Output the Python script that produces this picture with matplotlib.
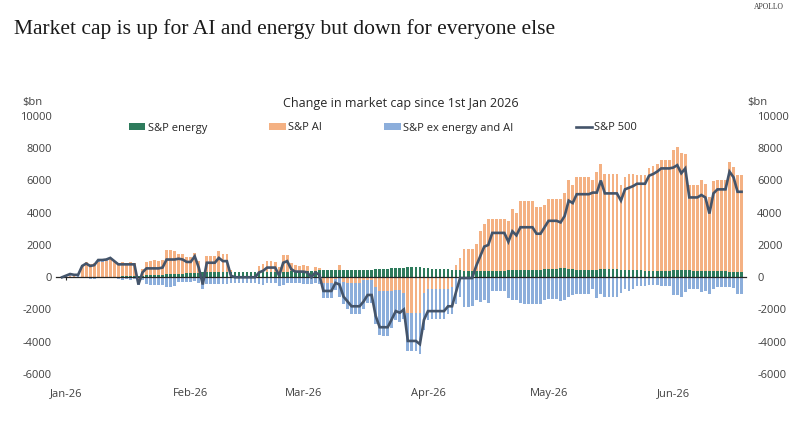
import matplotlib
matplotlib.use("Agg")
import matplotlib.pyplot as plt
import matplotlib.dates as mdates
from matplotlib.patches import Patch
from matplotlib.lines import Line2D
import numpy as np
import pandas as pd

plt.rcParams['axes.unicode_minus'] = False
plt.rcParams['font.family'] = ['Open Sans', 'DejaVu Sans']

start_date = "2025-12-31"

# S&P 500 total change in market cap ($bn), daily
sp500 = [
    0, 100, 200, 150, 150, 700, 850, 700, 750, 1070,
    1070, 1100, 1200, 1000, 800, 800, 800, 800, 800, -450,
    300, 550, 550, 550, 550, 600, 1100, 1100, 1100, 1150, 1100,
    950, 950, 1300, 600, -450, 900, 900, 900, 1200, 1000,
    1000, 100, 0, 0, 0, 0, 0, 0, 300, 400,
    600, 600, 600, 100, 900, 1000, 500, 350,
    350, 350, 300, 0, 300, 150, -850, -850, -850, -350,
    -450, -1200, -1500, -1800, -1800, -1800, -1500, -1100, -1100, -2400,
    -3100, -3100, -3100, -2600, -2100, -2200, -2000, -3950, -3950, -3950, -4150,
    -2650, -2100, -2100, -2100, -2100, -2100, -1800, -1800, -900, -50,
    -50, -50, -50, 700, 1300, 1900, 2000, 2750, 2750, 2750,
    2750, 2200, 2850, 2600, 3100, 3100, 3100, 3100, 2700, 2700,
    3100, 3500, 3500, 3500, 3400, 3800, 4750, 4600, 5150, 5150,
    5150, 5150, 5250, 5250, 6000, 5200, 5200, 5200, 5200, 4750,
    5450, 5550, 5650, 5800, 5800, 5800, 6300, 6400, 6550, 6750, 6750,
    6750, 6800, 6950, 6450, 6750, 4950, 4950, 4950, 5100, 4950,
    3950, 5200, 5450, 5450, 5450, 6550, 6200, 5300, 5300,
]

# S&P energy ($bn)
energy = [
    0, 0, 0, 0, 0, 20, 20, 20, 20, 20,
    30, 30, 30, 30, 30, 50, 50, 50, 50, 50,
    100, 120, 150, 150, 150, 150, 200, 200, 200, 200, 220,
    250, 250, 280, 280, 300, 300, 300, 300, 300, 320,
    320, 330, 330, 330, 330, 350, 350, 350, 350, 350,
    330, 330, 330, 350, 350, 350, 380, 380,
    380, 400, 400, 400, 400, 420, 420, 420, 420, 420,
    440, 440, 440, 450, 450, 450, 450, 480, 480, 500,
    500, 520, 520, 550, 550, 580, 600, 620, 620, 620, 620,
    600, 550, 520, 500, 500, 500, 500, 480, 450, 420,
    400, 400, 380, 380, 380, 380, 380, 400, 400, 400,
    400, 420, 420, 420, 420, 450, 450, 450, 480, 480,
    500, 500, 520, 520, 550, 550, 520, 500, 480, 450,
    450, 450, 450, 480, 500, 520, 520, 520, 500, 480,
    450, 450, 420, 420, 420, 400, 400, 400, 400, 400, 400,
    400, 420, 420, 420, 420, 420, 400, 400, 400, 400,
    400, 400, 380, 380, 380, 350, 350, 330, 330,
]

# S&P AI ($bn)
ai = [
    0, 0, 50, 50, 0, 750, 900, 800, 850, 900,
    900, 1000, 1100, 1000, 850, 900, 850, 900, 850, -100,
    400, 850, 850, 900, 850, 900, 1500, 1500, 1450, 1250, 1200,
    1000, 1000, 1250, 700, -400, 1000, 1000, 1000, 1300, 1100,
    1100, 100, 0, 0, 0, 0, 0, 0, 350, 500,
    650, 650, 600, 300, 1000, 1000, 500, 350,
    300, 350, 300, 0, 250, 150, -350, -350, -350, -100,
    350, -300, -350, -350, -350, -350, -200, -150, -150, -600,
    -850, -850, -850, -850, -800, -800, -1000, -2200, -2200, -2200, -2200,
    -1000, -700, -700, -700, -700, -700, -700, -600, 300, 750,
    1370, 1370, 1370, 1700, 2470, 2920, 3220, 3200, 3200, 3200,
    3200, 3080, 3830, 3580, 4280, 4280, 4280, 4280, 3900, 3900,
    4000, 4350, 4330, 4330, 4300, 4650, 5480, 5200, 5720, 5750,
    5750, 5750, 5550, 6070, 6550, 5880, 5880, 5880, 5900, 5270,
    5750, 5950, 5980, 5930, 5930, 5950, 6350, 6500, 6650, 6900, 6900,
    6900, 7480, 7630, 7280, 7230, 5280, 5300, 5300, 5600, 5400,
    4600, 5550, 5670, 5670, 5670, 6800, 6500, 6020, 6020,
]

s = np.array(sp500, dtype=float)
e = np.array(energy, dtype=float)
a = np.array(ai, dtype=float)
x_other = s - e - a  # S&P ex energy and AI

dates = pd.date_range(start_date, periods=len(s), freq="D")

c_energy = "#2E7B5C"
c_ai = "#F4B183"
c_other = "#8CAEDB"
c_line = "#44546A"
c_text = "#404040"

fig = plt.figure(figsize=(8.0, 4.21), dpi=100)
ax = fig.add_axes([56/800, 1-374/421, 690/800, 258/421])

pos_base = np.zeros(len(s))
neg_base = np.zeros(len(s))
w = 0.68
for vals, col in [(e, c_energy), (a, c_ai), (x_other, c_other)]:
    bottoms = np.where(vals >= 0, pos_base, neg_base)
    ax.bar(dates, vals, bottom=bottoms, width=w, color=col, linewidth=0, zorder=2)
    pos_base = pos_base + np.where(vals >= 0, vals, 0)
    neg_base = neg_base + np.where(vals < 0, vals, 0)

ax.plot(dates, s, color=c_line, lw=1.9, zorder=4, solid_joinstyle="miter")

ax.set_ylim(-6000, 10000)
ax.set_yticks(np.arange(-6000, 10001, 2000))
ax.set_xlim(dates[0] - pd.Timedelta(days=1.5), dates[0] + pd.Timedelta(days=170.1))

for sp in ["top", "left", "right"]:
    ax.spines[sp].set_visible(False)
ax.spines["bottom"].set_position(("data", 0))
ax.spines["bottom"].set_color("#262626")
ax.spines["bottom"].set_linewidth(0.9)
ax.spines["bottom"].set_zorder(3)

ax.xaxis.set_major_locator(mdates.MonthLocator())
ax.xaxis.set_major_formatter(mdates.DateFormatter("%b-%y"))
ax.tick_params(axis="x", length=2.5, width=0.8, color="#262626", direction="out",
               pad=77, labelsize=8, labelcolor=c_text)
ax.tick_params(axis="y", length=0, pad=3, labelsize=8, labelcolor=c_text)
ax.set_facecolor("none")

# right-hand axis labels (same scale)
axr = ax.twinx()
axr.set_ylim(ax.get_ylim())
axr.set_yticks(ax.get_yticks())
axr.tick_params(axis="y", length=0, pad=8, labelsize=8, labelcolor=c_text)
for sp in axr.spines.values():
    sp.set_visible(False)

fig.text(14/800, 1-29/421, "Market cap is up for AI and energy but down for everyone else",
         ha="left", va="center", family="Liberation Serif", size=15.5, color="#1a1a1a")
fig.text(769/800, 1-7/421, "APOLLO", ha="center", va="center",
         family="Liberation Serif", size=5.5, color="#333333")
fig.text(401/800, 1-103/421, "Change in market cap since 1st Jan 2026",
         ha="center", va="center", size=9, color="#262626")
fig.text(22/800, 1-102/421, "$bn", ha="left", va="center", size=8, color=c_text)
fig.text(747/800, 1-102/421, "$bn", ha="left", va="center", size=8, color=c_text)

handles = [
    Patch(facecolor=c_energy, edgecolor="none", label="S&P energy"),
    Patch(facecolor=c_ai, edgecolor="none", label="S&P AI"),
    Patch(facecolor=c_other, edgecolor="none", label="S&P ex energy and AI"),
    Line2D([0], [0], color=c_line, lw=1.9, label="S&P 500"),
]
leg = fig.legend(handles=handles, loc="center", bbox_to_anchor=(383/800, 1-128/421),
                 ncol=4, frameon=False, fontsize=8, handlelength=1.5,
                 handleheight=0.55, handletextpad=0.2, columnspacing=5.6,
                 labelcolor="#262626")

fig.savefig("out.png", dpi=100, facecolor="white")
